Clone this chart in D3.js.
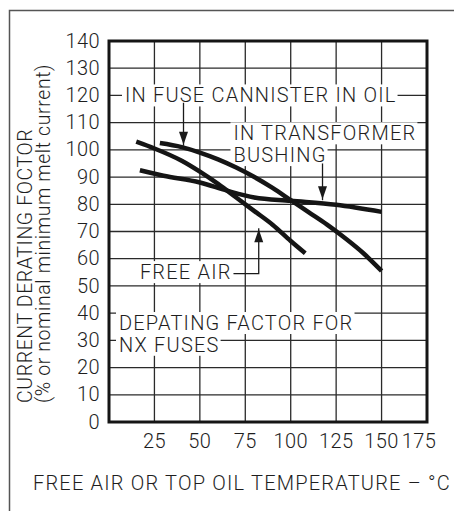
<!DOCTYPE html>
<html>
<head>
<meta charset="utf-8">
<script src="https://cdn.jsdelivr.net/npm/d3@7"></script>
<style>
  html, body { margin: 0; padding: 0; background: #fff; }
  svg text { font-family: Roboto, "Liberation Sans", Arial, sans-serif; font-weight: 300; font-size: 20px; letter-spacing: 1.2px; fill: #1e1e1e; }
  svg text.tick { letter-spacing: 0.4px; }
  svg text.ytitle { font-size: 19.5px; letter-spacing: 0.6px; }
</style>
</head>
<body>
<svg id="chart" width="454" height="511"></svg>
<script>
// temperature ticks (°C) and derating ticks (%)
const xTicks = [25, 50, 75, 100, 125, 150, 175];
const yTicks = [0, 10, 20, 30, 40, 50, 60, 70, 80, 90, 100, 110, 120, 130, 140];

// curves: [temperature, derating %]
const freeAir = [[15, 103], [25, 100.5], [40, 96], [50, 92], [60, 87.5], [70, 82.5], [80, 77.5], [90, 72.5], [100, 66.5], [108, 62]];
const fuseCannister = [[28, 102.5], [40, 101], [50, 99], [60, 96.5], [70, 93.5], [80, 90], [90, 86], [100, 81.5], [110, 77], [120, 72.5], [130, 67.5], [140, 62], [150, 55.5]];
const bushing = [[17, 92.5], [30, 90.5], [50, 88], [65, 85], [80, 82.5], [100, 81.3], [125, 79.8], [150, 77.2]];

const svg = d3.select("#chart");

const x = d3.scaleLinear().domain([0, 175]).range([109, 427]);
const y = d3.scaleLinear().domain([0, 140]).range([422, 41]);

// outer frame (runs off the right and bottom of the picture)
svg.append("rect")
  .attr("x", 9.5).attr("y", 10.5)
  .attr("width", 470).attr("height", 520)
  .attr("fill", "none").attr("stroke", "#555").attr("stroke-width", 1.5);

// grid
const grid = svg.append("g").attr("stroke", "#2a2a2a").attr("stroke-width", 1.3);
grid.selectAll("line.v")
  .data(xTicks.slice(0, -1))
  .join("line")
  .attr("x1", d => x(d)).attr("x2", d => x(d))
  .attr("y1", y(0)).attr("y2", y(140));
grid.selectAll("line.h")
  .data(yTicks.slice(1, -1))
  .join("line")
  .attr("x1", x(0)).attr("x2", x(175))
  .attr("y1", d => y(d)).attr("y2", d => y(d));

// labels with white boxes go above the grid, below the curves
const labels = svg.append("g");

function boxedText(px, py, str) {
  const g = labels.append("g");
  const rect = g.append("rect").attr("fill", "#fff");
  const t = g.append("text")
    .attr("x", px).attr("y", py)
    .text(str);
  const b = t.node().getBBox();
  rect.attr("x", b.x - 3).attr("y", b.y + 1)
    .attr("width", b.width + 4).attr("height", b.height - 2);
}

boxedText(x(8.8), y(120) + 7, "IN FUSE CANNISTER IN OIL");
boxedText(x(68.5), y(103.5), "IN TRANSFORMER");
boxedText(x(68.5), y(95.5), "BUSHING");
boxedText(x(17), y(52.5), "FREE AIR");
boxedText(x(5.5), y(33.8), "DEPATING FACTOR FOR");
boxedText(x(5.5), y(25.8), "NX FUSES");

// arrows
const arrows = svg.append("g").attr("stroke", "#1a1a1a").attr("stroke-width", 1.3).attr("fill", "none");

function arrowHead(tx, ty) {
  svg.append("path")
    .attr("d", `M${tx},${ty} L${tx - 4.5},${ty - 13} L${tx + 4.5},${ty - 13} Z`)
    .attr("fill", "#1a1a1a");
}
function arrowHeadUp(tx, ty) {
  svg.append("path")
    .attr("d", `M${tx},${ty} L${tx - 4.5},${ty + 13} L${tx + 4.5},${ty + 13} Z`)
    .attr("fill", "#1a1a1a");
}

// fuse cannister arrow
arrows.append("line")
  .attr("x1", x(41)).attr("x2", x(41))
  .attr("y1", y(117.3)).attr("y2", y(101.5));
arrowHead(x(41), y(101.5) - 1);

// bushing arrow
arrows.append("line")
  .attr("x1", x(117.5)).attr("x2", x(117.5))
  .attr("y1", y(95)).attr("y2", y(81.5));
arrowHead(x(117.5), y(81.5) - 1);

// free air arrow
arrows.append("path")
  .attr("d", `M${x(68.5)},${y(54.5)} H${x(82.4)} V${y(71.2)}`);
arrowHeadUp(x(82.4), y(71.2) + 1);

// curves
const line = d3.line()
  .x(d => x(d[0]))
  .y(d => y(d[1]))
  .curve(d3.curveMonotoneX);

svg.append("g")
  .selectAll("path")
  .data([bushing, freeAir, fuseCannister])
  .join("path")
  .attr("d", line)
  .attr("fill", "none")
  .attr("stroke", "#151515")
  .attr("stroke-width", 4.5);

// plot border
svg.append("rect")
  .attr("x", x(0)).attr("y", y(140))
  .attr("width", x(175) - x(0)).attr("height", y(0) - y(140))
  .attr("fill", "none").attr("stroke", "#151515").attr("stroke-width", 3);

// tick labels
svg.append("g")
  .selectAll("text")
  .data(yTicks)
  .join("text")
  .attr("class", "tick")
  .attr("x", 100)
  .attr("y", d => y(d))
  .attr("dy", "0.33em")
  .attr("text-anchor", "end")
  .text(d => d);

svg.append("g")
  .selectAll("text")
  .data(xTicks)
  .join("text")
  .attr("class", "tick")
  .attr("x", d => d === 175 ? x(d) - 8 : x(d))
  .attr("y", 448)
  .attr("text-anchor", "middle")
  .text(d => d);

// axis titles
svg.append("text")
  .attr("x", 33).attr("y", 490)
  .text("FREE AIR OR TOP OIL TEMPERATURE – °C");

const yTitle = svg.append("text")
  .attr("class", "ytitle")
  .attr("transform", "translate(32,403) rotate(-90)");
yTitle.append("tspan").attr("x", 0).attr("y", 0).text("CURRENT DERATING FOCTOR");
yTitle.append("tspan").attr("x", 0).attr("y", 18).text("(% or nominal minimum melt current)");
</script>
</body>
</html>
